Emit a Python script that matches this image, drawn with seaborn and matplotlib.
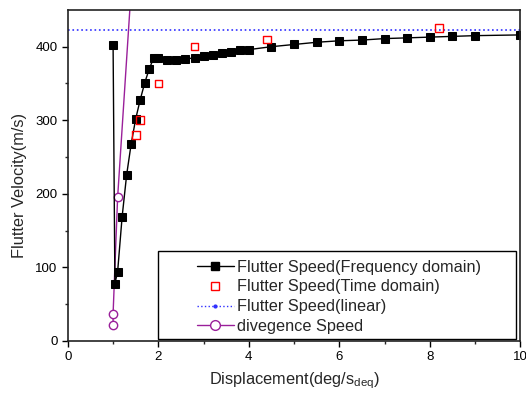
import matplotlib
matplotlib.use("Agg")
import matplotlib.pyplot as plt
from matplotlib.lines import Line2D
from matplotlib.patches import Rectangle
import seaborn as sns

# Data
freq_x = [1.0, 1.04, 1.1, 1.2, 1.3, 1.4, 1.5, 1.6, 1.7, 1.8, 1.9, 2.0, 2.2, 2.4, 2.6, 2.8,
          3.0, 3.2, 3.4, 3.6, 3.8, 4.0, 4.5, 5.0, 5.5, 6.0, 6.5, 7.0, 7.5, 8.0, 8.5, 9.0, 10.0]
freq_y = [402, 78, 94, 169, 226, 268, 302, 328, 351, 370, 385, 384, 382, 382, 383, 385,
          387, 389, 391, 393, 395, 396, 400, 403, 406, 408, 409, 411, 412, 413, 414, 415, 416]
time_x = [1.5, 1.6, 2.0, 2.8, 4.4, 8.2]
time_y = [280, 300, 350, 400, 410, 425]
linear_x = [0, 10]
linear_y = [422, 422]
div_x = [1.0, 1.0, 1.1, 1.5]
div_y = [22, 37, 195, 573]

labels = ["Flutter Speed(Frequency domain)", "Flutter Speed(Time domain)",
          "Flutter Speed(linear)", "divegence Speed"]

PURPLE = "#9a1f9a"

sns.set_style("ticks")
plt.rcParams["font.family"] = ["Liberation Sans", "DejaVu Sans"]
plt.rcParams["mathtext.fontset"] = "custom"
plt.rcParams["mathtext.rm"] = "Liberation Sans"

fig = plt.figure(figsize=(5.26, 3.96), dpi=100)
ax = fig.add_axes([0.129, 0.139, 0.86, 0.836])

sns.lineplot(x=linear_x, y=linear_y, ax=ax, color="#3030ff", linestyle=":", linewidth=1.2,
             sort=False, estimator=None)
sns.lineplot(x=div_x, y=div_y, ax=ax, color=PURPLE, linewidth=1, marker="o", markersize=6,
             markerfacecolor="white", markeredgecolor=PURPLE, markeredgewidth=1,
             sort=False, estimator=None)
sns.lineplot(x=freq_x, y=freq_y, ax=ax, color="black", linewidth=1, marker="s", markersize=5.5,
             markeredgecolor="black", sort=False, estimator=None)
sns.scatterplot(x=time_x, y=time_y, ax=ax, marker="s", s=30, facecolor="none",
                edgecolor="red", linewidth=1, zorder=5)

ax.set_xlim(0, 10)
ax.set_ylim(0, 450)
ax.set_xticks([0, 2, 4, 6, 8, 10])
ax.set_xticks([1, 3, 5, 7, 9], minor=True)
ax.set_yticks([0, 100, 200, 300, 400])
ax.set_yticks([50, 150, 250, 350], minor=True)
ax.tick_params(which="major", direction="out", length=4, width=1, labelsize=9.5, colors="black")
ax.tick_params(which="minor", direction="out", length=2.5, width=1)
for s in ax.spines.values():
    s.set_visible(True)
    s.set_linewidth(1.2)
    s.set_color("#222222")

ax.set_xlabel(r"Displacement(deg/s$_\mathregular{deq}$)", fontsize=11.8, labelpad=5)
ax.set_ylabel("Flutter Velocity(m/s)", fontsize=11.8, labelpad=6, y=0.471)

handles = [
    Line2D([], [], color="black", lw=1, marker="s", markersize=6),
    Line2D([], [], color="none", marker="s", markersize=6, markerfacecolor="none",
           markeredgecolor="red", markeredgewidth=1),
    Line2D([], [], color="#3030ff", lw=1, linestyle=":", marker=".", markersize=4),
    Line2D([], [], color=PURPLE, lw=1, marker="o", markersize=7, markerfacecolor="white",
           markeredgecolor=PURPLE),
]
# legend frame (Origin-style, wide box)
frame = Rectangle((0.199, 0.006), 0.792, 0.266, transform=ax.transAxes, facecolor="white",
                  edgecolor="black", linewidth=1, zorder=6)
ax.add_patch(frame)
leg = ax.legend(handles, labels, loc="upper left", bbox_to_anchor=(0.285, 0.246),
                fontsize=11.7, frameon=False, handlelength=2.3, handletextpad=0.2,
                borderpad=0, labelspacing=0.3, borderaxespad=0)
leg.set_zorder(7)

fig.savefig("out.png", dpi=100)
